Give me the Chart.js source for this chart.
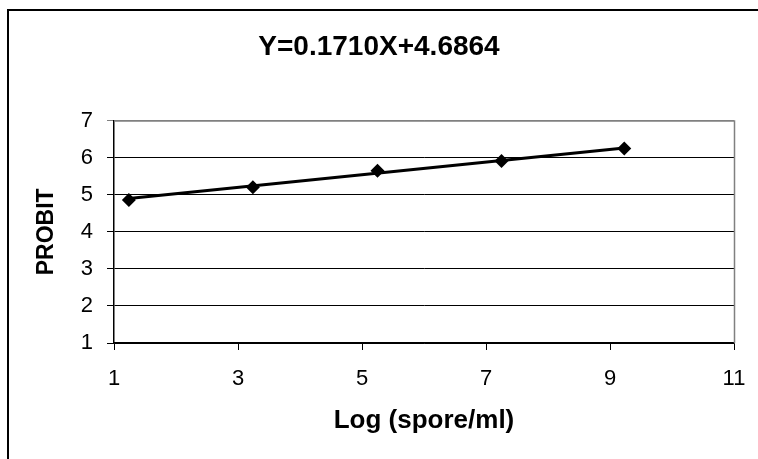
<!DOCTYPE html>
<html>
<head>
<meta charset="utf-8">
<script src="https://cdn.jsdelivr.net/npm/chart.js@4/dist/chart.umd.min.js"></script>
<style>
  html, body { margin: 0; padding: 0; background: #ffffff; }
  #wrap { width: 758px; height: 459px; position: relative; }
</style>
</head>
<body>
<div id="wrap"><canvas id="c" width="758" height="459"></canvas></div>
<script>
// ---- data ----
const chartTitle = 'Y=0.1710X+4.6864';
const xAxisTitle = 'Log (spore/ml)';
const yAxisTitle = 'PROBIT';
const logDose = [1.24, 3.24, 5.25, 7.25, 9.23];
const probit = [4.86, 5.20, 5.65, 5.91, 6.25];
const trendX = [1.24, 9.23];
const trendY = [4.90, 6.26];
const xTicks = [1, 3, 5, 7, 9, 11];
const yTicks = [1, 2, 3, 4, 5, 6, 7];

const FONT = "'Liberation Sans', Arial, Helvetica, sans-serif";

const pointData = logDose.map((x, i) => ({ x: x, y: probit[i] }));
const trendData = trendX.map((x, i) => ({ x: x, y: trendY[i] }));

const framePlugin = {
  id: 'frame',
  beforeDraw(chart) {
    const ctx = chart.ctx;
    ctx.save();
    ctx.fillStyle = '#ffffff';
    ctx.fillRect(0, 0, chart.width, chart.height);
    ctx.strokeStyle = '#000000';
    ctx.lineWidth = 2;
    ctx.strokeRect(8, 10, chart.width + 20, chart.height + 20);
    ctx.restore();
  },
  beforeDatasetsDraw(chart) {
    const a = chart.chartArea;
    const ctx = chart.ctx;
    ctx.save();
    ctx.strokeStyle = '#808080';
    ctx.lineWidth = 1.5;
    ctx.beginPath();
    ctx.moveTo(a.left, a.top + 0.5);
    ctx.lineTo(a.right + 0.5, a.top + 0.5);
    ctx.lineTo(a.right + 0.5, a.bottom);
    ctx.stroke();
    ctx.restore();
  }
};

new Chart(document.getElementById('c'), {
  type: 'scatter',
  data: {
    datasets: [
      {
        type: 'line',
        label: 'trend',
        data: trendData,
        borderColor: '#000000',
        borderWidth: 3,
        pointRadius: 0,
        fill: false,
        order: 0
      },
      {
        label: 'data',
        data: pointData,
        backgroundColor: '#000000',
        borderColor: '#000000',
        pointStyle: 'rectRot',
        pointRadius: 7,
        borderWidth: 0,
        showLine: false,
        order: 1
      }
    ]
  },
  options: {
    responsive: false,
    animation: false,
    layout: { padding: { left: 24, right: 24, top: 0, bottom: 0 } },
    plugins: {
      legend: { display: false },
      tooltip: { enabled: false },
      title: {
        display: true,
        text: chartTitle,
        color: '#000000',
        font: { family: FONT, size: 28, weight: 'bold' },
        padding: { top: 30, bottom: 57 }
      }
    },
    scales: {
      x: {
        type: 'linear',
        min: 1,
        max: 11,
        afterFit(scale) { scale.height = 116; scale.paddingLeft = 0; scale.paddingRight = 0; },
        afterBuildTicks(scale) { scale.ticks = xTicks.map(v => ({ value: v })); },
        ticks: {
          color: '#000000',
          font: { family: FONT, size: 22 },
          padding: 16,
          maxRotation: 0
        },
        grid: {
          drawOnChartArea: false,
          drawTicks: true,
          tickLength: 7,
          color: '#000000',
          lineWidth: 1
        },
        border: { display: true, color: '#000000', width: 1.5 },
        title: {
          display: true,
          text: xAxisTitle,
          color: '#000000',
          font: { family: FONT, size: 26, weight: 'bold' },
          padding: { top: 0, bottom: 23 }
        }
      },
      y: {
        type: 'linear',
        min: 1,
        max: 7,
        afterFit(scale) { scale.width = 90; scale.paddingTop = 0; scale.paddingBottom = 0; },
        afterBuildTicks(scale) { scale.ticks = yTicks.map(v => ({ value: v })); },
        ticks: {
          color: '#000000',
          font: { family: FONT, size: 22 },
          padding: 14
        },
        grid: {
          drawTicks: true,
          tickLength: 7,
          color: (c) => (c.tick && c.tick.value === 7 ? '#808080' : '#000000'),
          lineWidth: 1
        },
        border: { display: true, color: '#000000', width: 1.5 },
        title: {
          display: true,
          text: yAxisTitle,
          color: '#000000',
          font: { family: FONT, size: 23, weight: 'bold' },
          padding: { top: 9, bottom: 0 }
        }
      }
    }
  },
  plugins: [framePlugin]
});
</script>
</body>
</html>
